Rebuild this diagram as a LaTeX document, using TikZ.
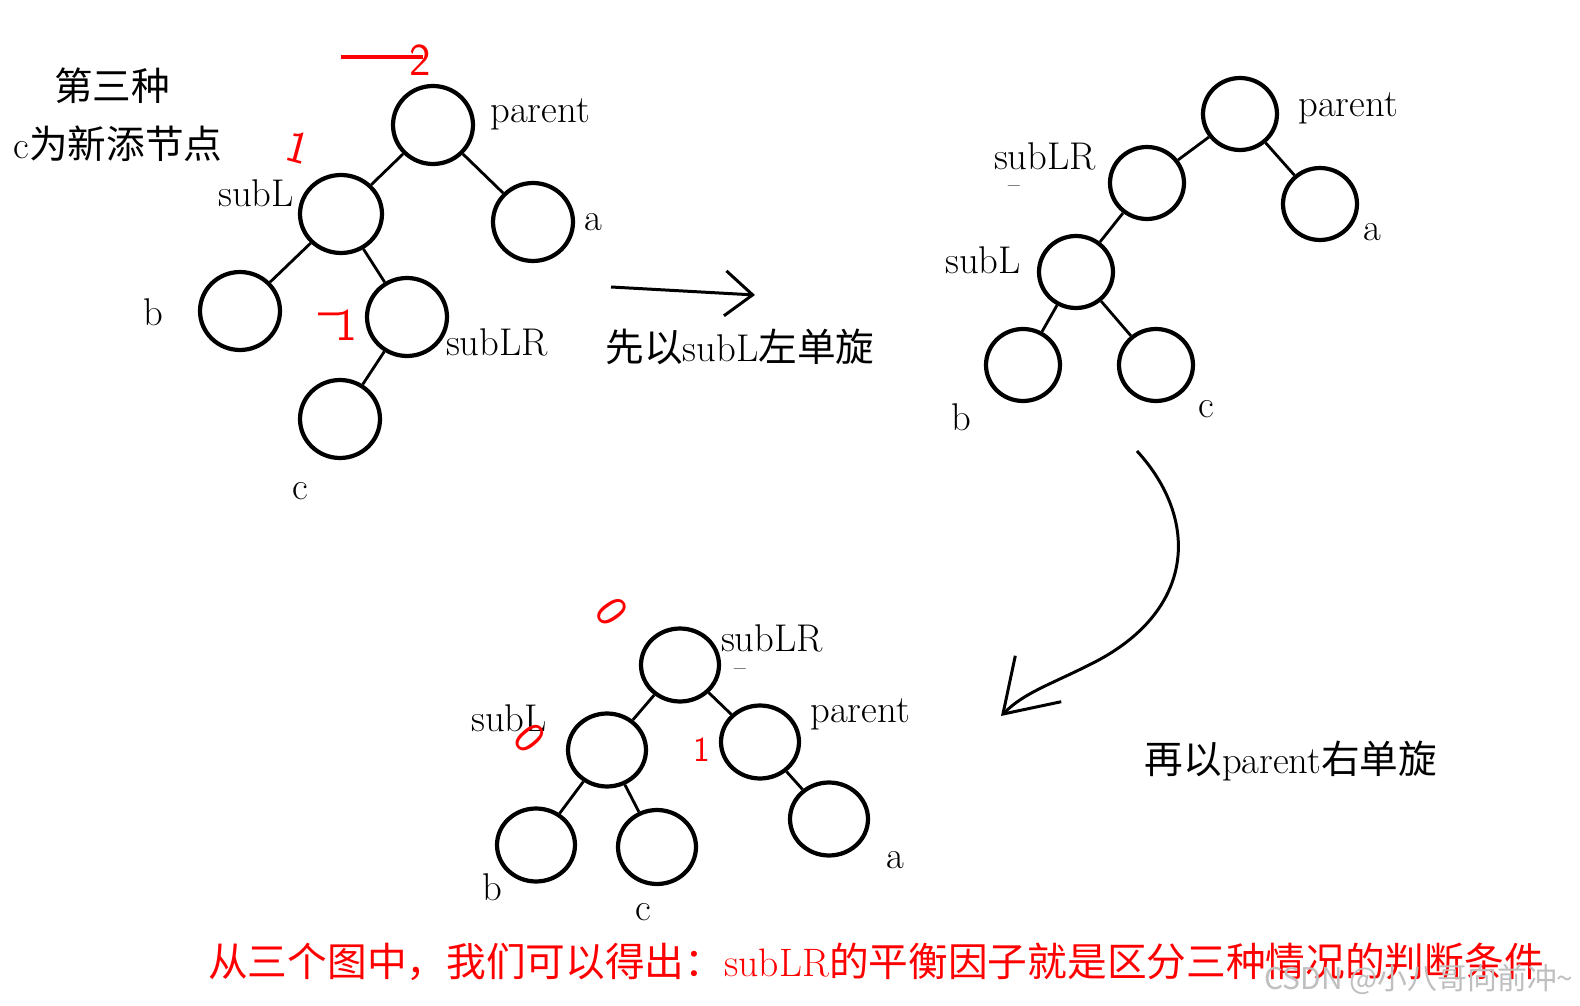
\documentclass[tikz,border=0pt]{standalone}
\usepackage{fontspec}
\newfontfamily\cjk{Noto Sans CJK SC}
\usetikzlibrary{shapes.geometric,arrows.meta}
\tikzset{
    tnode/.style 2 args={draw, ellipse, line width=2.4pt, inner sep=0pt, minimum width=#1, minimum height=#2},
    link/.style={line width=1.6pt},
    lab/.style={inner sep=0pt, font=\fontsize{22}{26}\selectfont},
    bf/.style={inner sep=0pt, text=red, font=\sffamily\fontsize{26}{26}\selectfont},
    turn/.style={line width=1.7pt}
}
\begin{document}
\begin{tikzpicture}[x=0.02cm, y=-0.02cm]
    \useasboundingbox (0,0) rectangle (1580,1006);

    \node[lab] (t1) at (112,86) {\cjk 第三种};
    \node[lab] (t2) at (118,144) {c{\cjk 为新添节点}};

    \node[tnode={1.6cm}{1.56cm}] (p1) at (433,125) {};
    \node[tnode={1.6cm}{1.56cm}] (a1) at (533,222) {};
    \node[tnode={1.64cm}{1.56cm}] (l1) at (341,214) {};
    \node[tnode={1.6cm}{1.56cm}] (b1) at (240,311) {};
    \node[tnode={1.6cm}{1.56cm}] (lr1) at (407,317) {};
    \node[tnode={1.6cm}{1.56cm}] (c1) at (340,419) {};
    \draw[link] (p1) -- (l1);
    \draw[link] (p1) -- (a1);
    \draw[link] (l1) -- (b1);
    \draw[link] (l1) -- (lr1);
    \draw[link] (lr1) -- (c1);
    \node[lab] at (540,114) {parent};
    \node[lab] at (593,222) {a};
    \node[lab] at (256,193) {subL};
    \node[lab] at (153,312) {b};
    \node[lab] at (497,342) {subLR};
    \node[lab] at (300,491) {c};
    \node[bf] (f1) at (386,60) {\rule[0.35em]{1.8em}{2.4pt}\kern-0.3em 2};
    \node[bf, rotate=-15] (f2) at (298,147) {1};
    \node[bf] (f3) at (338,325) {\raisebox{0.3em}{\textendash}\kern-0.1em 1};

    \coordinate (r1s) at (611,287);
    \coordinate (r1e) at (755,295);
    \draw[turn, -{Straight Barb[length=0.55cm, width=0.9cm]}] (r1s) -- (r1e);
    \node[lab] at (740,347) {{\cjk 先以}subL{\cjk 左单旋}};

    \node[tnode={1.48cm}{1.44cm}] (p2) at (1240,114) {};
    \node[tnode={1.48cm}{1.44cm}] (lr2) at (1147,183) {};
    \node[tnode={1.48cm}{1.44cm}] (a2) at (1320,204) {};
    \node[tnode={1.48cm}{1.44cm}] (l2) at (1076,272) {};
    \node[tnode={1.48cm}{1.44cm}] (b2) at (1023,365) {};
    \node[tnode={1.48cm}{1.44cm}] (c2) at (1156,365) {};
    \draw[link] (p2) -- (lr2);
    \draw[link] (p2) -- (a2);
    \draw[link] (lr2) -- (l2);
    \draw[link] (l2) -- (b2);
    \draw[link] (l2) -- (c2);
    \node[lab] at (1348,108) {parent};
    \node[lab] at (1045,156) {subLR};
    \node[lab, font=\fontsize{14}{14}\selectfont] at (1014,189) {\textendash};
    \node[lab] at (1372,232) {a};
    \node[lab] at (983,260) {subL};
    \node[lab] at (961,417) {b};
    \node[lab] at (1206,409) {c};

    \coordinate (r2s) at (1137,451);
    \coordinate (r2e) at (1001,716);
    \draw[turn, -{Straight Barb[length=1cm, width=1.3cm]}] (r2s) .. controls (1200,520) and (1195,610) .. (1095,662) .. controls (1050,685) and (1025,692) .. (r2e);
    \node[lab] at (1291,761) {{\cjk 再以}parent{\cjk 右单旋}};

    \node[tnode={1.56cm}{1.46cm}] (lr3) at (680,665) {};
    \node[tnode={1.56cm}{1.46cm}] (l3) at (607,750) {};
    \node[tnode={1.56cm}{1.46cm}] (p3) at (760,742) {};
    \node[tnode={1.56cm}{1.46cm}] (b3) at (536,845) {};
    \node[tnode={1.56cm}{1.48cm}] (c3) at (657,847) {};
    \node[tnode={1.56cm}{1.46cm}] (a3) at (829,819) {};
    \draw[link] (lr3) -- (l3);
    \draw[link] (lr3) -- (p3);
    \draw[link] (l3) -- (b3);
    \draw[link] (l3) -- (c3);
    \draw[link] (p3) -- (a3);
    \node[lab] at (772,638) {subLR};
    \node[lab, font=\fontsize{14}{14}\selectfont] at (740,672) {\textendash};
    \node[lab] at (509,718) {subL};
    \node[lab] at (860,714) {parent};
    \node[lab] at (492,887) {b};
    \node[lab] at (643,912) {c};
    \node[lab] at (895,860) {a};
    \node[bf, rotate=-55] (f4) at (612,612) {0};
    \node[bf, rotate=-50] (f5) at (530,738) {0};
    \node[bf, font=\sffamily\fontsize{20}{20}\selectfont] (f6) at (702,750) {1};

    \node[lab, text=red, font=\fontsize{22.6}{26}\selectfont] (sum) at (876,962)
        {{\cjk 从三个图中，我们可以得出：}subLR{\cjk 的平衡因子就是区分三种情况的判断条件}};
    \node[lab, text=black!25, font=\fontsize{17}{17}\selectfont] (wm) at (1419,979) {\cjk CSDN @小八哥向前冲\textasciitilde};
\end{tikzpicture}
\end{document}
